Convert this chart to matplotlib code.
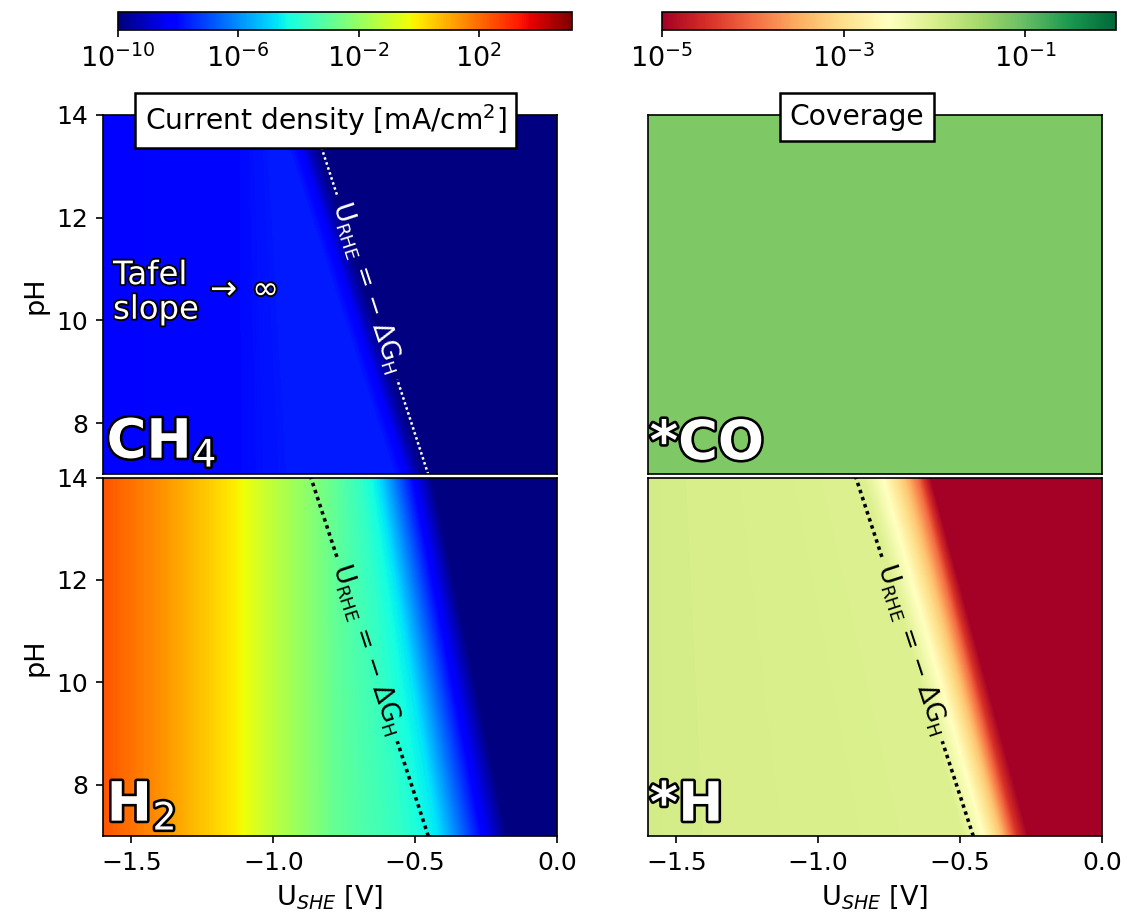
import numpy as np
import matplotlib.pyplot as plt
from matplotlib import colors, cm, ticker
import matplotlib.patheffects as pe

# log10 values along iso-lines; each iso-line given by its U_SHE [V] at pH 14 and at pH 7
ch4_level = [-8.1, -8.0, -7.75, -7.75, -8.15, -9.2, -10.0, -10.0]
ch4_u_ph14 = [-1.60, -1.117, -1.019, -0.983, -0.948, -0.913, -0.878, 0.0]
ch4_u_ph7 = [-1.60, -1.117, -0.941, -0.574, -0.539, -0.503, -0.469, 0.0]

h2_level = [2.4, 1.3, 0.0, -1.1, -1.95, -2.9, -3.8, -4.7, -5.9, -8.2, -10.0, -10.0]
h2_u_ph14 = [-1.60, -1.374, -1.142, -1.022, -0.906, -0.789, -0.694, -0.634, -0.589, -0.507, -0.441, 0.0]
h2_u_ph7 = [-1.60, -1.374, -1.142, -1.022, -0.906, -0.782, -0.553, -0.423, -0.367, -0.261, -0.176, 0.0]

co_level = [-1.2, -1.2]
co_u_ph14 = [-1.60, 0.0]
co_u_ph7 = [-1.60, 0.0]

h_level = [-1.95, -2.05, -2.5, -3.25, -4.0, -4.5, -5.0, -5.0]
h_u_ph14 = [-1.60, -0.842, -0.775, -0.701, -0.652, -0.631, -0.606, 0.0]
h_u_ph7 = [-1.60, -0.490, -0.420, -0.360, -0.324, -0.300, -0.261, 0.0]

ph_rows = [7.0, 14.0]

# U_RHE = -dG_H line, drawn in two pieces around its label
dG_H = 0.04
line_ph = [[12.45, 14.0], [7.0, 8.85]]
label_ph = 10.65

j_min, j_max = -10.0, 5.1
c_min, c_max = -5.0, 0.0


def u_she(ph):
    return -dG_H - 0.0591 * np.asarray(ph)


W, H = 1127, 919
fig = plt.figure(figsize=(W / 150, H / 150), dpi=150)


def rect(x0, y0, x1, y1):
    return [x0 / W, 1 - y1 / H, (x1 - x0) / W, (y1 - y0) / H]


ax_ch4 = fig.add_axes(rect(103, 115, 557, 474.5))
ax_h2 = fig.add_axes(rect(103, 477.5, 557, 836))
ax_co = fig.add_axes(rect(648, 115, 1102, 474.5))
ax_h = fig.add_axes(rect(648, 477.5, 1102, 836))
cax_j = fig.add_axes(rect(118, 12, 572, 30))
cax_c = fig.add_axes(rect(662, 12, 1116, 30))


def draw_map(ax, level, u14, u7, cmap, lo, hi):
    X = np.array([u7, u14])
    Y = np.array([[ph_rows[0]] * len(u7), [ph_rows[1]] * len(u14)])
    Z = np.array([level, level])
    ax.contourf(X, Y, Z, levels=np.linspace(lo, hi, 400), cmap=cmap,
                norm=colors.Normalize(lo, hi), extend='both')
    ax.set_xlim(-1.6, 0.0)
    ax.set_ylim(7, 14)


draw_map(ax_ch4, ch4_level, ch4_u_ph14, ch4_u_ph7, 'jet', j_min, j_max)
draw_map(ax_h2, h2_level, h2_u_ph14, h2_u_ph7, 'jet', j_min, j_max)
draw_map(ax_co, co_level, co_u_ph14, co_u_ph7, 'RdYlGn', c_min, c_max)
draw_map(ax_h, h_level, h_u_ph14, h_u_ph7, 'RdYlGn', c_min, c_max)

for ax in (ax_ch4, ax_co):
    ax.set_xticks([])
for ax in (ax_co, ax_h):
    ax.set_yticks([])
for ax in (ax_ch4, ax_h2):
    ax.set_yticks([8, 10, 12, 14])
    ax.set_ylabel('pH', fontsize=13)
for ax in (ax_h2, ax_h):
    ax.set_xticks([-1.5, -1.0, -0.5, 0.0])
    ax.set_xlabel('U$_{SHE}$ [V]', fontsize=13)
for ax in (ax_ch4, ax_h2, ax_co, ax_h):
    ax.tick_params(labelsize=12)

# RHE line with rotated label
for ax, col, lw in ((ax_ch4, 'white', 1.2), (ax_h2, 'black', 1.7), (ax_h, 'black', 1.7)):
    for seg in line_ph:
        ax.plot(u_she(seg), seg, ls=(0, (1, 1.1)), lw=lw, color=col)
    p1 = ax.transData.transform((u_she(14.0), 14.0))
    p2 = ax.transData.transform((u_she(7.0), 7.0))
    ang = np.degrees(np.arctan2(p2[1] - p1[1], p2[0] - p1[0]))
    ax.text(u_she(label_ph), label_ph, r'U$_{\rm RHE}$ = $-$ ΔG$_{\rm H}$',
            rotation=ang, rotation_mode='anchor', ha='center', va='center',
            color=col, fontsize=12.5)

outline = [pe.withStroke(linewidth=2.5, foreground='black')]
big = dict(color='white', fontsize=26, fontweight='bold', ha='left', va='bottom',
           path_effects=outline)
ax_ch4.text(0.008, 0.015, 'CH$_4$', transform=ax_ch4.transAxes, **big)
ax_h2.text(0.008, 0.012, 'H$_2$', transform=ax_h2.transAxes, **big)
ax_co.text(0.004, 0.012, '*CO', transform=ax_co.transAxes, **big)
ax_h.text(0.004, 0.012, '*H', transform=ax_h.transAxes, **big)

thin = [pe.withStroke(linewidth=1.8, foreground='black')]
ax_ch4.text(0.022, 0.505, 'Tafel\nslope', transform=ax_ch4.transAxes, color='white',
            fontsize=15.5, ha='left', va='center', linespacing=1.15, path_effects=thin)
ax_ch4.text(0.222, 0.512, r'$\rightarrow\;\infty$', transform=ax_ch4.transAxes,
            color='white', fontsize=15.5, ha='left', va='center', path_effects=thin)

box = dict(boxstyle='square,pad=0.35', fc='white', ec='black', lw=1.2)
ax_ch4.text(0.49, 0.985, 'Current density [mA/cm$^2$]', transform=ax_ch4.transAxes,
            ha='center', va='center', fontsize=13.5, bbox=box, zorder=10)
ax_co.text(0.46, 0.994, 'Coverage', transform=ax_co.transAxes,
           ha='center', va='center', fontsize=13.5, bbox=box, zorder=10)

# colorbars
sm_j = cm.ScalarMappable(norm=colors.LogNorm(10 ** j_min, 10 ** j_max), cmap='jet')
cb_j = fig.colorbar(sm_j, cax=cax_j, orientation='horizontal')
cb_j.set_ticks([1e-10, 1e-6, 1e-2, 1e2])
sm_c = cm.ScalarMappable(norm=colors.LogNorm(10 ** c_min, 10 ** c_max), cmap='RdYlGn')
cb_c = fig.colorbar(sm_c, cax=cax_c, orientation='horizontal')
cb_c.set_ticks([1e-5, 1e-3, 1e-1])
for cax in (cax_j, cax_c):
    cax.xaxis.set_minor_locator(ticker.NullLocator())
    cax.tick_params(labelsize=13)

fig.savefig('out.png', dpi=150)
